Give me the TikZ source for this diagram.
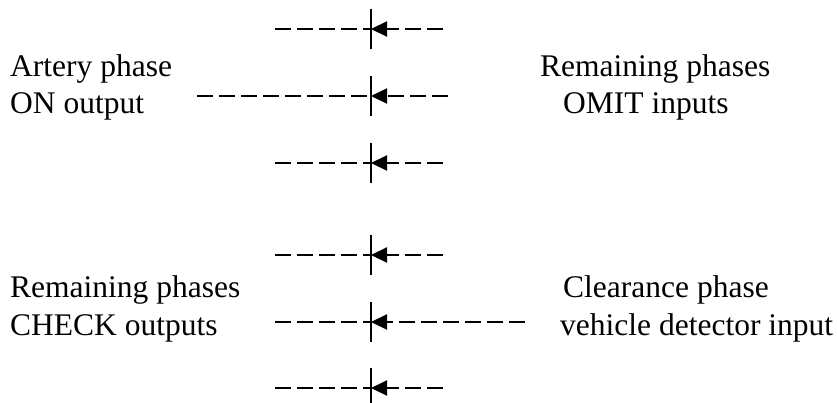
\documentclass[tikz,border=0pt]{standalone}
\usepackage{fontspec}
\setmainfont{Liberation Serif}
\usetikzlibrary{arrows.meta}
\begin{document}
\begin{tikzpicture}[x=1pt,y=-1pt,
  lbl/.style={anchor=base west,inner sep=0pt,font=\fontsize{31.5}{37}\selectfont},
  dline/.style={line width=2.2pt,dash pattern=on 16pt off 6pt},
  arr/.style={dline,-{Triangle[length=16pt,width=15pt]}},
  barline/.style={line width=2.2pt}]
\useasboundingbox (0,0) rectangle (837,402);
% row coordinates
\foreach \n/\y/\l/\r in {1/29/275/443, 2/96/197/448, 3/163/275/443, 4/255/275/443, 5/322/275/525, 6/388/275/443}{
  \coordinate (b\n) at (371,\y);
  \coordinate (l\n) at (\l,\y);
  \coordinate (r\n) at (\r,\y);
  \coordinate (t\n) at (371,\y-20);
  \coordinate (u\n) at (371,\y+20);
}
\foreach \n in {1,...,6}{
  \draw[dline] (l\n) -- (b\n);
  \draw[arr] (r\n) -- (b\n);
  \draw[barline] (t\n) -- (u\n);
}
% labels
\node[lbl] (a1) at (10,76) {Artery phase};
\node[lbl] (a2) at (10,113) {ON output};
\node[lbl] (o1) at (540,76) {Remaining phases};
\node[lbl] (o2) at (563,113) {OMIT inputs};
\node[lbl] (c1) at (10,297) {Remaining phases};
\node[lbl] (c2) at (10,335) {CHECK outputs};
\node[lbl] (v1) at (563,297) {Clearance phase};
\node[lbl] (v2) at (560,335) {vehicle detector input};
\end{tikzpicture}
\end{document}
